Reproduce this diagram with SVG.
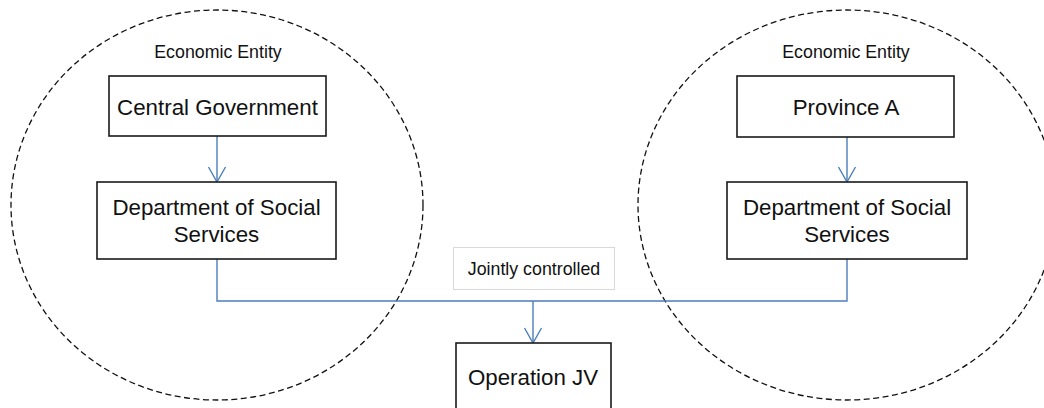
<svg xmlns="http://www.w3.org/2000/svg" width="1044" height="408" viewBox="0 0 1044 408">
<defs>
<style>
.ent{fill:none;stroke:#111;stroke-width:1.3;stroke-dasharray:6 3.5}
.box{fill:#fff;stroke:#1a1a1a;stroke-width:1.6}
.lbl{fill:#fff;stroke:#d9d9d9;stroke-width:1}
.t{font-family:"Liberation Sans",Arial,sans-serif;font-size:22.3px;fill:#111;text-anchor:middle}
.s{font-family:"Liberation Sans",Arial,sans-serif;font-size:17.8px;fill:#111;text-anchor:middle}
.c{fill:none;stroke:#4a7ebb;stroke-width:1.4}
</style>
<marker id="arr" viewBox="-16 -10 17 20" markerWidth="17" markerHeight="20" refX="0" refY="0" orient="auto" markerUnits="userSpaceOnUse">
<path d="M-15,-8.5 L0,0 L-15,8.5" fill="none" stroke="#4a7ebb" stroke-width="1.4"/>
</marker>
</defs>
<rect width="1044" height="408" fill="#fff"/>
<g id="entity-left">
<ellipse class="ent" cx="217" cy="205" rx="206" ry="195"/>
<text class="s" x="218" y="58">Economic Entity</text>
</g>
<g id="entity-right">
<ellipse class="ent" cx="847" cy="205" rx="209" ry="195"/>
<text class="s" x="846" y="58">Economic Entity</text>
</g>
<g id="connectors">
<line class="c" x1="217" y1="136" x2="217" y2="182" marker-end="url(#arr)"/>
<line class="c" x1="847" y1="137" x2="847" y2="182" marker-end="url(#arr)"/>
<polyline class="c" points="217,259 217,301 847,301 847,259"/>
<line class="c" x1="533" y1="301" x2="533" y2="343" marker-end="url(#arr)"/>
</g>
<g id="central-government">
<rect class="box" x="109" y="76" width="217" height="60"/>
<text class="t" x="217.5" y="115">Central Government</text>
</g>
<g id="dss-left">
<rect class="box" x="97" y="182" width="239" height="77"/>
<text class="t" x="216.5" y="215">Department of Social</text>
<text class="t" x="216.5" y="242">Services</text>
</g>
<g id="province-a">
<rect class="box" x="737" y="76" width="217" height="61"/>
<text class="t" x="846" y="115">Province A</text>
</g>
<g id="dss-right">
<rect class="box" x="727" y="182" width="240" height="77"/>
<text class="t" x="847" y="215">Department of Social</text>
<text class="t" x="847" y="242">Services</text>
</g>
<g id="jointly-controlled">
<rect class="lbl" x="453.5" y="247.5" width="161" height="42"/>
<text class="s" x="534" y="275">Jointly controlled</text>
</g>
<g id="operation-jv">
<rect class="box" x="456" y="343" width="155" height="120"/>
<text class="t" x="533" y="385">Operation JV</text>
</g>
</svg>
